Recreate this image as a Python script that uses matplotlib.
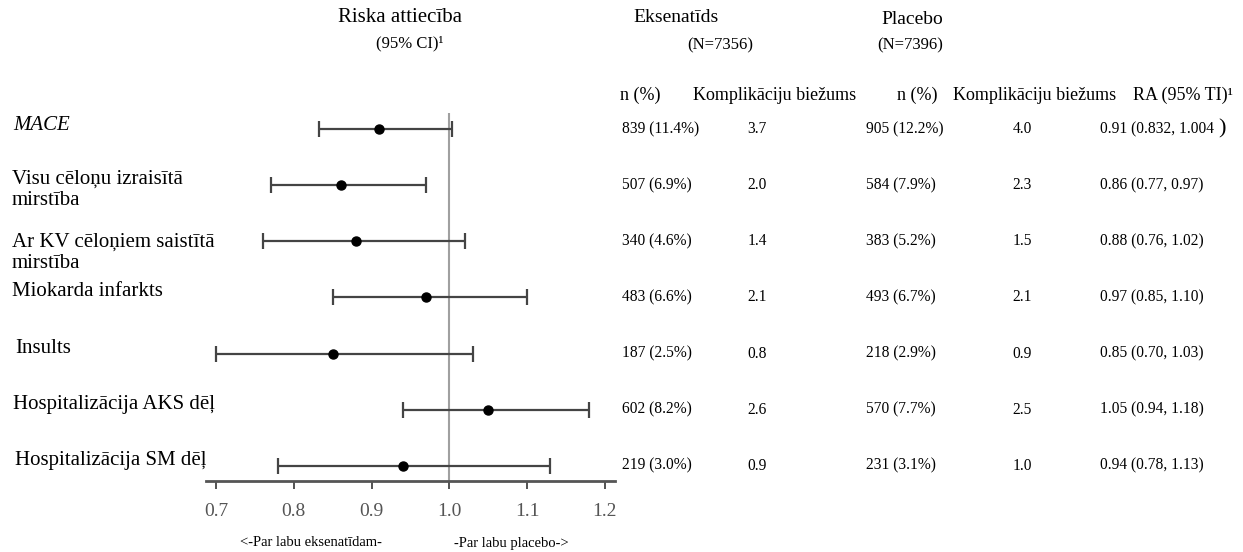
import matplotlib.pyplot as plt
from matplotlib import transforms

plt.rcParams['font.family'] = ['Liberation Serif', 'DejaVu Serif']

outcomes = ["MACE", "Visu cēloņu izraisītā\nmirstība", "Ar KV cēloņiem saistītā\nmirstība",
            "Miokarda infarkts", "Insults", "Hospitalizācija AKS dēļ", "Hospitalizācija SM dēļ"]
hr = [0.91, 0.86, 0.88, 0.97, 0.85, 1.05, 0.94]
ci_low = [0.832, 0.77, 0.76, 0.85, 0.70, 0.94, 0.78]
ci_high = [1.004, 0.97, 1.02, 1.10, 1.03, 1.18, 1.13]
exe_n = ["839 (11.4%)", "507 (6.9%)", "340 (4.6%)", "483 (6.6%)", "187 (2.5%)", "602 (8.2%)", "219 (3.0%)"]
exe_rate = ["3.7", "2.0", "1.4", "2.1", "0.8", "2.6", "0.9"]
pla_n = ["905 (12.2%)", "584 (7.9%)", "383 (5.2%)", "493 (6.7%)", "218 (2.9%)", "570 (7.7%)", "231 (3.1%)"]
pla_rate = ["4.0", "2.3", "1.5", "2.1", "0.9", "2.5", "1.0"]
ra_text = ["0.91 (0.832, 1.004 ", "0.86 (0.77, 0.97)", "0.88 (0.76, 1.02)", "0.97 (0.85, 1.10)",
           "0.85 (0.70, 1.03)", "1.05 (0.94, 1.18)", "0.94 (0.78, 1.13)"]
xticks = [0.7, 0.8, 0.9, 1.0, 1.1, 1.2]

W, H = 1243, 552
fig = plt.figure(figsize=(W / 100, H / 100), dpi=100)
ax = fig.add_axes([206 / W, 1 - 481 / H, (615 - 206) / W, (481 - 113) / H])

rows = list(range(len(outcomes)))
err = [[h - lo for h, lo in zip(hr, ci_low)], [hi - h for h, hi in zip(hr, ci_high)]]
ax.axvline(1.0, color='#a0a0a0', lw=1.5, zorder=1)
ax.errorbar(hr, rows, xerr=err, fmt='o', color='black', ms=6.5,
            ecolor='#444444', elinewidth=1.6, capsize=6, capthick=1.6, zorder=3)

ax.set_xlim(0.687, 1.213)
ax.set_ylim(6.27, -0.285)
ax.set_xticks(xticks)
ax.set_xticklabels([f"{t:.1f}" for t in xticks], fontsize=14, color='#555555')
ax.tick_params(axis='x', length=6, width=1.3, color='#444444', pad=10)
ax.set_yticks([])
for s in ['top', 'right', 'left']:
    ax.spines[s].set_visible(False)
ax.spines['bottom'].set_color('#555555')
ax.spines['bottom'].set_linewidth(2)

# row labels
label_dy = [-0.07, 0.09, 0.2, -0.11, -0.09, -0.09, -0.1]
label_x = [13, 12, 12, 12, 15, 13, 15]
tr = transforms.blended_transform_factory(fig.transFigure, ax.transData)
for i, name in enumerate(outcomes):
    ax.text(label_x[i] / W, i + label_dy[i], name, transform=tr, fontsize=15,
            ha='left', va='center', linespacing=1.15,
            style='italic' if i == 0 else 'normal')

# table columns
fs = 11.2
for i in rows:
    ax.text(622 / W, i, exe_n[i], transform=tr, fontsize=fs, ha='left', va='center')
    ax.text(757 / W, i, exe_rate[i], transform=tr, fontsize=fs, ha='center', va='center')
    ax.text(866 / W, i, pla_n[i], transform=tr, fontsize=fs, ha='left', va='center')
    ax.text(1022 / W, i, pla_rate[i], transform=tr, fontsize=fs, ha='center', va='center')
    t = ax.text(1100 / W, i, ra_text[i], transform=tr, fontsize=fs, ha='left', va='center')
    if i == 0:
        ax.annotate(")", xy=(1, 0.5), xycoords=t, fontsize=16, ha='left', va='center')

# headers
def ftext(x, y, s, size, **kw):
    fig.text(x / W, 1 - y / H, s, fontsize=size, ha='center', va='center', **kw)

ftext(400, 18, "Riska attiecība", 15)
ftext(410, 43, "(95% CI)¹", 12)
ftext(676, 17, "Eksenatīds", 14)
ftext(720, 45, "(N=7356)", 12)
ftext(912, 20, "Placebo", 14)
ftext(910, 45, "(N=7396)", 12)
ftext(640, 95, "n (%)", 13)
ftext(775, 95, "Komplikāciju biežums", 13)
ftext(917, 95, "n (%)", 13)
ftext(1035, 95, "Komplikāciju biežums", 13)
ftext(1183, 95, "RA (95% TI)¹", 13)

ftext(311, 543, "<-Par labu eksenatīdam-", 10.5)
ftext(511, 543, "-Par labu placebo->", 10.5)

fig.savefig("out.png", dpi=100)
